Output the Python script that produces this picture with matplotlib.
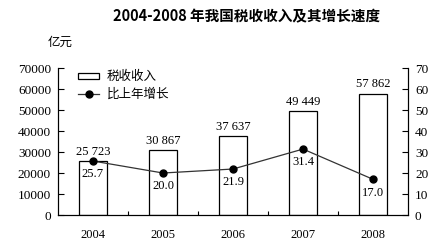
import matplotlib
matplotlib.use("Agg")
import matplotlib.pyplot as plt
from matplotlib.patches import Rectangle
from matplotlib.lines import Line2D

years = ["2004", "2005", "2006", "2007", "2008"]
revenue = [25723, 30867, 37637, 49449, 57862]
revenue_labels = ["25 723", "30 867", "37 637", "49 449", "57 862"]
growth = [25.7, 20.0, 21.9, 31.4, 17.0]
left_ticks = [0, 10000, 20000, 30000, 40000, 50000, 60000, 70000]
right_ticks = [0, 10, 20, 30, 40, 50, 60, 70]

cjk = ["Noto Sans CJK SC", "DejaVu Sans"]
serif = "Liberation Serif"

fig = plt.figure(figsize=(4.44, 2.45), dpi=100)
ax = fig.add_axes([0.1306, 0.1224, 0.7884, 0.60])
ax2 = ax.twinx()

x = list(range(len(years)))
ax.bar(x, revenue, width=0.4, facecolor="white", edgecolor="black", linewidth=0.9, zorder=2)
ax.set_xlim(-0.5, 4.5)
ax.set_ylim(0, 70000)
ax.set_yticks(left_ticks)
ax.set_yticklabels([str(t) for t in left_ticks], fontfamily=serif, fontsize=9.5)
ax.set_xticks(x)
ax.set_xticklabels(years, fontfamily=serif, fontsize=9)
ax.set_xticks([0.5, 1.5, 2.5, 3.5], minor=True)
ax.tick_params(axis="x", which="major", length=0, pad=10)
ax.tick_params(axis="x", which="minor", direction="in", length=3, width=0.8)
ax.tick_params(axis="y", direction="in", length=4, width=0.8, pad=5)
ax.spines["top"].set_visible(False)

for xi, v, lab in zip(x, revenue, revenue_labels):
    ax.text(xi, v + 1500, lab, ha="center", va="bottom", fontfamily=serif, fontsize=9)

ax2.plot(x, growth, color="#333333", linewidth=0.9, marker="o", markersize=5,
         markerfacecolor="black", markeredgecolor="black", zorder=3)
ax2.set_ylim(0, 70)
ax2.set_yticks(right_ticks)
ax2.set_yticklabels([str(t) for t in right_ticks], fontfamily=serif, fontsize=9.5)
ax2.tick_params(axis="y", direction="in", length=4, width=0.8, pad=5)
ax2.spines["top"].set_visible(False)

for xi, g in zip(x, growth):
    ax2.text(xi, g - 3.5, "%.1f" % g, ha="center", va="top", fontfamily=serif, fontsize=9)

# legend drawn by hand in axes coords
ax.add_patch(Rectangle((0.058, 0.925), 0.06, 0.04, transform=ax.transAxes,
                       facecolor="white", edgecolor="black", linewidth=0.9, clip_on=False))
ax.text(0.14, 0.945, "税收收入", transform=ax.transAxes, va="center", fontsize=9, fontfamily=cjk)
ax.add_line(Line2D([0.058, 0.118], [0.82, 0.82], transform=ax.transAxes, color="#333333",
                   linewidth=0.9))
ax.plot([0.088], [0.82], transform=ax.transAxes, marker="o", color="black", markersize=5)
ax.text(0.14, 0.82, "比上年增长", transform=ax.transAxes, va="center", fontsize=9, fontfamily=cjk)

fig.text(0.108, 0.815, "亿元", fontsize=9, fontfamily=cjk)
fig.text(0.555, 0.935, "2004-2008 年我国税收收入及其增长速度", ha="center", va="center",
         fontsize=10.5, fontweight="bold", fontfamily=cjk)

fig.savefig("out.png", dpi=100)
